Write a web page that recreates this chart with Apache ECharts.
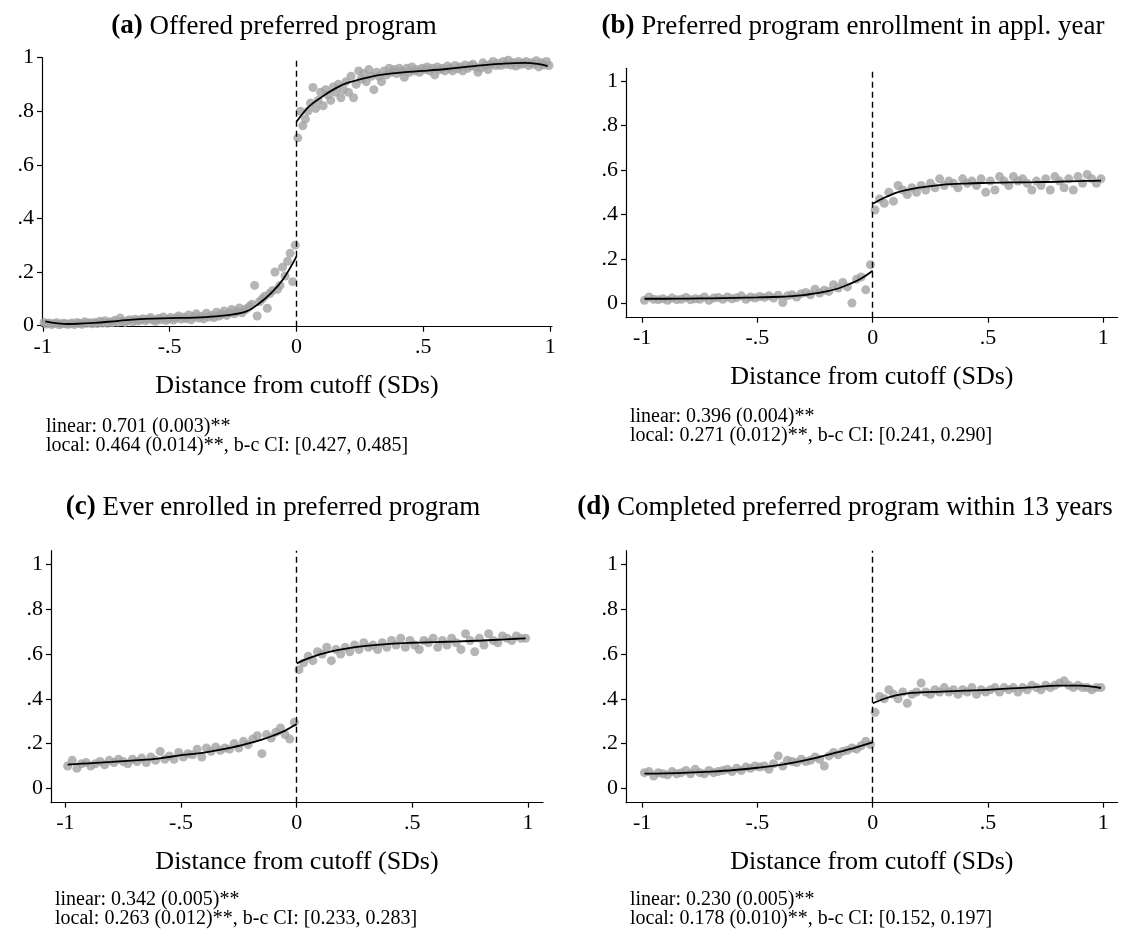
<!DOCTYPE html>
<html>
<head>
<meta charset="utf-8">
<script src="https://cdn.jsdelivr.net/npm/echarts@6.0.0/dist/echarts.min.js"></script>
<style>
html,body{margin:0;padding:0;background:#fff;}
#chart{width:1124px;height:931px;}
</style>
</head>
<body>
<div id="chart"></div>
<script>
// ---------------- data ----------------
// bin centres for panels (b)-(d)
const binsL = [-0.99,-0.97,-0.95,-0.93,-0.91,-0.89,-0.87,-0.85,-0.83,-0.81,
  -0.79,-0.77,-0.75,-0.73,-0.71,-0.69,-0.67,-0.65,-0.63,-0.61,
  -0.59,-0.57,-0.55,-0.53,-0.51,-0.49,-0.47,-0.45,-0.43,-0.41,
  -0.39,-0.37,-0.35,-0.33,-0.31,-0.29,-0.27,-0.25,-0.23,-0.21,
  -0.19,-0.17,-0.15,-0.13,-0.11,-0.09,-0.07,-0.05,-0.03,-0.01];
const binsR = [0.01,0.03,0.05,0.07,0.09,0.11,0.13,0.15,0.17,0.19,
  0.21,0.23,0.25,0.27,0.29,0.31,0.33,0.35,0.37,0.39,
  0.41,0.43,0.45,0.47,0.49,0.51,0.53,0.55,0.57,0.59,
  0.61,0.63,0.65,0.67,0.69,0.71,0.73,0.75,0.77,0.79,
  0.81,0.83,0.85,0.87,0.89,0.91,0.93,0.95,0.97,0.99];
// finer bin centres for panel (a)
const binsLA = [-0.995,-0.985,-0.975,-0.965,-0.955,-0.945,-0.935,-0.925,-0.915,-0.905,
  -0.895,-0.885,-0.875,-0.865,-0.855,-0.845,-0.835,-0.825,-0.815,-0.805,
  -0.795,-0.785,-0.775,-0.765,-0.755,-0.745,-0.735,-0.725,-0.715,-0.705,
  -0.695,-0.685,-0.675,-0.665,-0.655,-0.645,-0.635,-0.625,-0.615,-0.605,
  -0.595,-0.585,-0.575,-0.565,-0.555,-0.545,-0.535,-0.525,-0.515,-0.505,
  -0.495,-0.485,-0.475,-0.465,-0.455,-0.445,-0.435,-0.425,-0.415,-0.405,
  -0.395,-0.385,-0.375,-0.365,-0.355,-0.345,-0.335,-0.325,-0.315,-0.305,
  -0.295,-0.285,-0.275,-0.265,-0.255,-0.245,-0.235,-0.225,-0.215,-0.205,
  -0.195,-0.185,-0.175,-0.165,-0.155,-0.145,-0.135,-0.125,-0.115,-0.105,
  -0.095,-0.085,-0.075,-0.065,-0.055,-0.045,-0.035,-0.025,-0.015,-0.005];
const binsRA = [0.005,0.015,0.025,0.035,0.045,0.055,0.065,0.075,0.085,0.095,
  0.105,0.115,0.125,0.135,0.145,0.155,0.165,0.175,0.185,0.195,
  0.205,0.215,0.225,0.235,0.245,0.255,0.265,0.275,0.285,0.295,
  0.305,0.315,0.325,0.335,0.345,0.355,0.365,0.375,0.385,0.395,
  0.405,0.415,0.425,0.435,0.445,0.455,0.465,0.475,0.485,0.495,
  0.505,0.515,0.525,0.535,0.545,0.555,0.565,0.575,0.585,0.595,
  0.605,0.615,0.625,0.635,0.645,0.655,0.665,0.675,0.685,0.695,
  0.705,0.715,0.725,0.735,0.745,0.755,0.765,0.775,0.785,0.795,
  0.805,0.815,0.825,0.835,0.845,0.855,0.865,0.875,0.885,0.895,
  0.905,0.915,0.925,0.935,0.945,0.955,0.965,0.975,0.985,0.995];

const fitXL = [-0.99,-0.9,-0.8,-0.7,-0.6,-0.5,-0.4,-0.3,-0.2,-0.15,-0.1,-0.05,0];
const fitXR = [0,0.05,0.1,0.15,0.2,0.3,0.4,0.5,0.6,0.7,0.8,0.9,0.95,0.99];

// (a) Offered preferred program
const aL = [0.012,0.006,0.010,0.004,0.008,0.011,0.003,0.007,0.009,0.005,
  0.006,0.010,0.004,0.012,0.008,0.005,0.014,0.009,0.011,0.007,
  0.012,0.008,0.016,0.010,0.018,0.009,0.014,0.011,0.020,0.013,
  0.028,0.015,0.012,0.019,0.022,0.014,0.024,0.017,0.021,0.026,
  0.018,0.024,0.030,0.020,0.016,0.027,0.022,0.032,0.019,0.025,
  0.030,0.021,0.028,0.036,0.024,0.031,0.026,0.040,0.022,0.034,
  0.044,0.028,0.035,0.025,0.046,0.032,0.038,0.030,0.050,0.036,
  0.042,0.055,0.038,0.048,0.060,0.044,0.052,0.066,0.048,0.058,
  0.064,0.072,0.080,0.150,0.036,0.090,0.100,0.110,0.065,0.120,
  0.130,0.200,0.135,0.150,0.218,0.185,0.240,0.270,0.164,0.300];
const aR = [0.700,0.800,0.745,0.770,0.800,0.830,0.888,0.810,0.840,0.870,
  0.820,0.880,0.860,0.840,0.890,0.870,0.900,0.850,0.880,0.910,
  0.870,0.930,0.850,0.900,0.950,0.920,0.940,0.910,0.955,0.930,
  0.880,0.945,0.930,0.910,0.950,0.935,0.960,0.945,0.955,0.940,
  0.960,0.950,0.926,0.960,0.945,0.965,0.950,0.955,0.945,0.960,
  0.955,0.965,0.950,0.960,0.935,0.965,0.955,0.960,0.950,0.968,
  0.960,0.950,0.970,0.958,0.965,0.950,0.972,0.960,0.968,0.975,
  0.965,0.945,0.960,0.980,0.970,0.955,0.975,0.985,0.970,0.978,
  0.970,0.985,0.975,0.990,0.972,0.980,0.968,0.985,0.975,0.978,
  0.985,0.970,0.980,0.975,0.988,0.965,0.980,0.972,0.985,0.970];
const aFitL = [0.016,0.006,0.010,0.018,0.025,0.028,0.030,0.036,0.052,0.081,0.121,0.177,0.258];
const aFitR = [0.760,0.818,0.853,0.883,0.905,0.930,0.943,0.950,0.958,0.968,0.976,0.980,0.976,0.968];

// (b) Preferred program enrollment in appl. year
const bL = [0.015,0.030,0.020,0.018,0.022,0.015,0.025,0.018,0.020,0.028,
  0.017,0.022,0.020,0.030,0.015,0.025,0.028,0.020,0.030,0.022,
  0.027,0.035,0.020,0.030,0.025,0.032,0.028,0.035,0.025,0.038,
  0.005,0.035,0.040,0.030,0.045,0.050,0.040,0.065,0.048,0.060,
  0.055,0.085,0.070,0.095,0.075,0.003,0.110,0.120,0.062,0.175];
const bR = [0.420,0.470,0.450,0.500,0.460,0.530,0.510,0.490,0.520,0.500,
  0.530,0.510,0.540,0.520,0.560,0.530,0.550,0.540,0.520,0.560,
  0.540,0.550,0.530,0.560,0.500,0.550,0.510,0.570,0.550,0.530,
  0.570,0.550,0.560,0.540,0.510,0.550,0.530,0.560,0.510,0.570,
  0.550,0.520,0.560,0.510,0.570,0.540,0.580,0.560,0.540,0.560];
const bFitL = [0.022,0.022,0.023,0.024,0.026,0.028,0.031,0.038,0.055,0.068,0.088,0.113,0.148];
const bFitR = [0.448,0.475,0.497,0.511,0.521,0.533,0.539,0.542,0.544,0.545,0.547,0.550,0.551,0.552];

// (c) Ever enrolled in preferred program
const cL = [0.100,0.125,0.090,0.110,0.115,0.100,0.110,0.120,0.105,0.125,
  0.115,0.130,0.120,0.110,0.130,0.120,0.135,0.115,0.140,0.125,
  0.165,0.130,0.145,0.130,0.160,0.140,0.155,0.150,0.175,0.140,
  0.180,0.165,0.185,0.170,0.180,0.175,0.200,0.180,0.210,0.195,
  0.220,0.235,0.155,0.240,0.225,0.250,0.270,0.240,0.220,0.295];
const cR = [0.530,0.560,0.590,0.570,0.610,0.600,0.630,0.570,0.620,0.600,
  0.630,0.610,0.640,0.620,0.650,0.630,0.640,0.620,0.650,0.630,
  0.660,0.640,0.670,0.630,0.660,0.640,0.620,0.660,0.650,0.670,
  0.630,0.660,0.640,0.670,0.650,0.620,0.690,0.660,0.610,0.670,
  0.640,0.690,0.660,0.650,0.680,0.670,0.660,0.680,0.670,0.670];
const cFitL = [0.106,0.112,0.118,0.125,0.133,0.148,0.160,0.178,0.203,0.218,0.236,0.258,0.287];
const cFitR = [0.558,0.580,0.598,0.612,0.622,0.636,0.645,0.650,0.653,0.656,0.660,0.665,0.668,0.670];

// (d) Completed preferred program within 13 years
const dL = [0.070,0.075,0.055,0.070,0.065,0.060,0.075,0.065,0.070,0.080,
  0.065,0.085,0.070,0.065,0.080,0.070,0.075,0.080,0.085,0.075,
  0.090,0.080,0.095,0.090,0.100,0.095,0.100,0.085,0.110,0.145,
  0.100,0.125,0.120,0.115,0.130,0.120,0.125,0.140,0.130,0.100,
  0.145,0.160,0.150,0.165,0.170,0.180,0.175,0.190,0.210,0.195];
const dR = [0.340,0.410,0.400,0.440,0.420,0.400,0.430,0.380,0.420,0.430,
  0.470,0.430,0.420,0.440,0.430,0.450,0.430,0.440,0.420,0.440,
  0.430,0.450,0.420,0.440,0.430,0.440,0.450,0.430,0.450,0.440,
  0.450,0.430,0.450,0.440,0.460,0.450,0.440,0.460,0.450,0.460,
  0.470,0.480,0.460,0.450,0.460,0.450,0.450,0.440,0.450,0.450];
const dFitL = [0.066,0.067,0.070,0.075,0.082,0.092,0.105,0.124,0.148,0.162,0.175,0.190,0.205];
const dFitR = [0.380,0.400,0.415,0.424,0.428,0.432,0.436,0.440,0.446,0.452,0.459,0.459,0.454,0.448];

const xTicks = [-1,-0.5,0,0.5,1];
const yTicks = [0,0.2,0.4,0.6,0.8,1];
const xLabel = 'Distance from cutoff (SDs)';

const panelTitles = [
  ['(a)', 'Offered preferred program'],
  ['(b)', 'Preferred program enrollment in appl. year'],
  ['(c)', 'Ever enrolled in preferred program'],
  ['(d)', 'Completed preferred program within 13 years']
];
const notes = [
  ['linear: 0.701 (0.003)**', 'local: 0.464 (0.014)**, b-c CI: [0.427, 0.485]'],
  ['linear: 0.396 (0.004)**', 'local: 0.271 (0.012)**, b-c CI: [0.241, 0.290]'],
  ['linear: 0.342 (0.005)**', 'local: 0.263 (0.012)**, b-c CI: [0.233, 0.283]'],
  ['linear: 0.230 (0.005)**', 'local: 0.178 (0.010)**, b-c CI: [0.152, 0.197]']
];

// ---------------- layout / style ----------------
const FONT = '"Liberation Serif", "DejaVu Serif", serif';
const panels = [
  {xl:binsLA, xr:binsRA, L:aL, R:aR, fL:aFitL, fR:aFitR, grid:{left:42, top:57.5, width:510, height:269.2}, x:[-1.003,1.007], y:[-0.004,1.0],
   titleX:269, titleY:8, noteX:46, noteY:427},
  {xl:binsL, xr:binsR, L:bL, R:bR, fL:bFitL, fR:bFitR, grid:{left:626, top:68.3, width:491.6, height:249.4}, x:[-1.070,1.062], y:[-0.063,1.056],
   titleX:848, titleY:8, noteX:630, noteY:417},
  {xl:binsL, xr:binsR, L:cL, R:cR, fL:cFitL, fR:cFitR, grid:{left:51, top:550.7, width:492, height:252}, x:[-1.062,1.065], y:[-0.064,1.061],
   titleX:268, titleY:489, noteX:55, noteY:900},
  {xl:binsL, xr:binsR, L:dL, R:dR, fL:dFitL, fR:dFitR, grid:{left:626, top:550.7, width:491.6, height:252}, x:[-1.070,1.062], y:[-0.064,1.061],
   titleX:840, titleY:489, noteX:630, noteY:900}
];

function fmt(v){
  const s = String(Math.round(v*10)/10);
  return s.replace(/^(-?)0\./, '$1.');
}
function zip(xs, ys){ return xs.map((x,i)=>[x, ys[i]]); }

const grids=[], xAxes=[], yAxes=[], series=[], titles=[], graphics=[];
panels.forEach((p,i)=>{
  grids.push(Object.assign({containLabel:false}, p.grid));
  xAxes.push({
    type:'value', gridIndex:i, min:p.x[0], max:p.x[1],
    axisLine:{show:true, onZero:false, lineStyle:{color:'#000', width:1.2}},
    axisTick:{show:true, length:5, customValues:xTicks, lineStyle:{color:'#000', width:1.2}},
    axisLabel:{customValues:xTicks, formatter:fmt, fontFamily:FONT, fontSize:22, color:'#000', margin:10},
    splitLine:{show:false},
    name:xLabel, nameLocation:'middle', nameGap:46,
    nameTextStyle:{fontFamily:FONT, fontSize:26, color:'#000'}
  });
  yAxes.push({
    type:'value', gridIndex:i, min:p.y[0], max:p.y[1],
    axisLine:{show:true, onZero:false, lineStyle:{color:'#000', width:1.2}},
    axisTick:{show:true, length:5, customValues:yTicks, lineStyle:{color:'#000', width:1.2}},
    axisLabel:{customValues:yTicks, formatter:fmt, fontFamily:FONT, fontSize:22, color:'#000', margin:8},
    splitLine:{show:false}
  });
  series.push({
    type:'scatter', xAxisIndex:i, yAxisIndex:i, symbolSize:9,
    itemStyle:{color:'#a2a2a2'}, silent:true,
    data: zip(p.xl, p.L).concat(zip(p.xr, p.R)),
    markLine:{silent:true, symbol:['none','none'], label:{show:false},
      lineStyle:{color:'#000', type:[6,4], width:1.4}, data:[{xAxis:0}], animation:false}
  });
  series.push({
    type:'line', xAxisIndex:i, yAxisIndex:i, data:zip(fitXL, p.fL), smooth:0.4,
    showSymbol:false, lineStyle:{color:'#000', width:1.8}, silent:true
  });
  series.push({
    type:'line', xAxisIndex:i, yAxisIndex:i, data:zip(fitXR, p.fR), smooth:0.4,
    showSymbol:false, lineStyle:{color:'#000', width:1.8}, silent:true
  });
  titles.push({
    text:'{b|' + panelTitles[i][0] + '} ' + panelTitles[i][1],
    left:p.titleX, top:p.titleY, textAlign:'center',
    textStyle:{fontFamily:FONT, fontSize:27, fontWeight:'normal', color:'#000',
      rich:{b:{fontFamily:FONT, fontSize:27, fontWeight:'bold', color:'#000'}}}
  });
  notes[i].forEach((t,k)=>{
    graphics.push({type:'text', x:p.noteX, y:p.noteY + k*18.3, silent:true,
      style:{text:t, fill:'#000', font:'20px ' + FONT, textAlign:'left', textVerticalAlign:'middle'}});
  });
});

const chart = echarts.init(document.getElementById('chart'), null, {renderer:'canvas'});
chart.setOption({
  animation:false,
  backgroundColor:'#fff',
  title:titles,
  grid:grids,
  xAxis:xAxes,
  yAxis:yAxes,
  series:series,
  graphic:graphics
});
</script>
</body>
</html>
